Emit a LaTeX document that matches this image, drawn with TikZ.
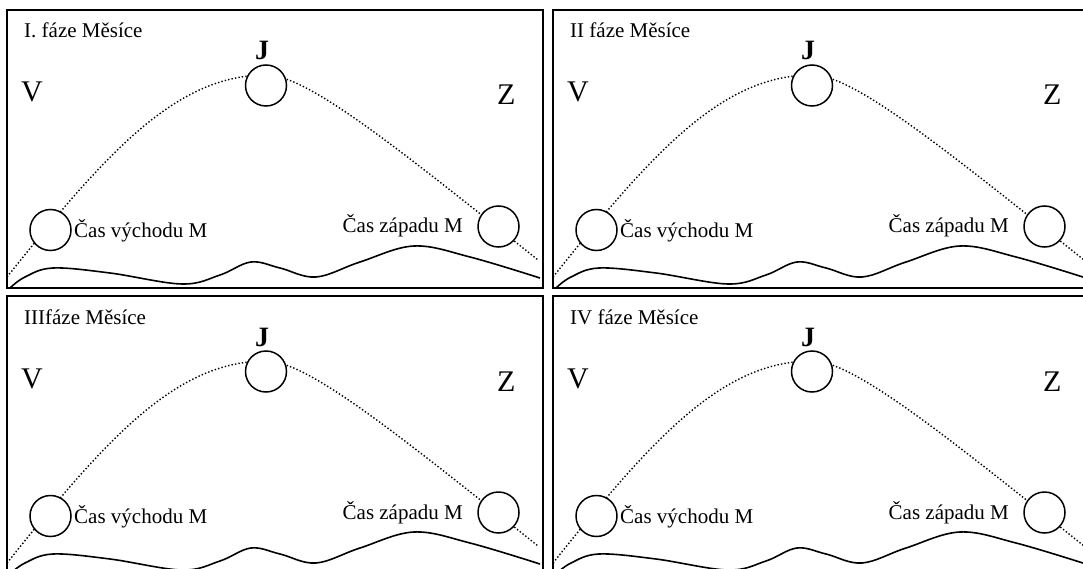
\documentclass[tikz,border=0pt]{standalone}
\usepackage{fontspec}
\setmainfont{Liberation Serif}
\begin{document}
\begin{tikzpicture}[x=1pt,y=-1pt,
  frame/.style={draw, line width=2pt},
  moon/.style={circle, draw, fill=white, line width=1.5pt, minimum size=41pt, inner sep=0pt},
  phase/.style={font=\fontsize{21}{25}\selectfont, inner sep=0pt},
  side/.style={font=\fontsize{30}{34}\selectfont, inner sep=0pt},
  south/.style={font=\bfseries\fontsize{28}{32}\selectfont, inner sep=0pt},
  timelabel/.style={font=\fontsize{21}{25}\selectfont, inner sep=0pt},
  orbit/.style={line width=1.4pt, dash pattern=on 1.4pt off 2.1pt},
  ground/.style={line width=1.6pt}]
\useasboundingbox (0,0) rectangle (1083,569);
\clip (0,0) rectangle (1083,569);
\foreach \dx/\dy/\t/\n in {0/0/I. fáze Měsíce/1, 546/0/II fáze Měsíce/2, 0/286/IIIfáze Měsíce/3, 546/286/IV fáze Měsíce/4}{
  \begin{scope}[shift={(\dx,\dy)}]
    \draw[frame] (7,10) rectangle (543,288);
    % dotted path of the Moon
    \coordinate (rs\n) at (7,277);
    \coordinate (apex\n) at (266,75);
    \coordinate (st\n) at (538,260);
    \draw[orbit] (rs\n) .. controls (107,152) and (176,75) .. (apex\n)
                        .. controls (306,75) and (388,140) .. (st\n);
    % horizon
    \draw[ground] plot[smooth, tension=0.6] coordinates {(10,288) (25,277) (53,268) (110,273) (182,284) (220,275) (251,262) (280,268) (316,277) (360,262) (414,246) (470,257) (540,278)};
    % moons
    \node[moon] (rise\n) at (50.5,230) {};
    \node[moon] (top\n) at (266,85.5) {};
    \node[moon] (set\n) at (498.5,226.5) {};
    % texts
    \node[phase, anchor=base west] (title\n) at (24,38) {\t};
    \node[south, anchor=base] (J\n) at (262,60) {J};
    \node[side, anchor=base west] (V\n) at (21,102) {V};
    \node[side, anchor=base west] (Z\n) at (497,105) {Z};
    \node[timelabel, anchor=base west] (rt\n) at (74,237) {Čas východu M};
    \node[timelabel, anchor=base east] (stl\n) at (463,233) {Čas západu M};
  \end{scope}
}
\end{tikzpicture}
\end{document}
